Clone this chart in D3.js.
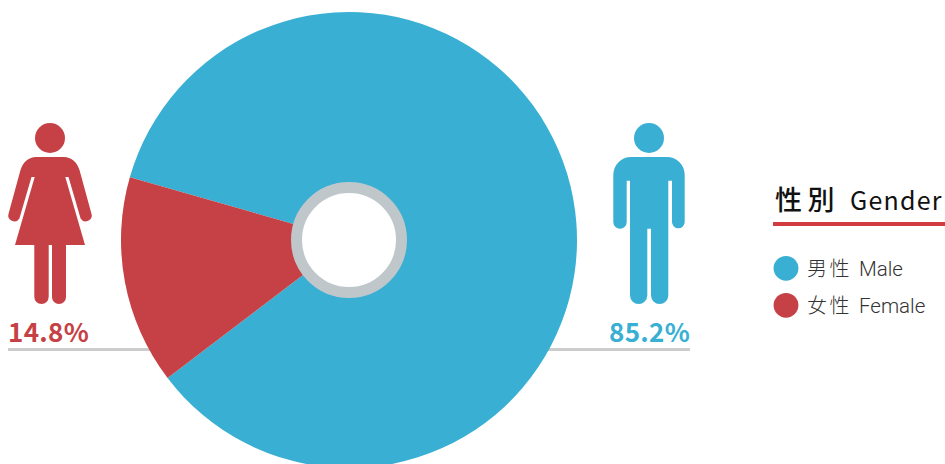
<!DOCTYPE html>
<html>
<head>
<meta charset="utf-8">
<script src="https://cdn.jsdelivr.net/npm/d3@7"></script>
<style>
  html, body { margin: 0; padding: 0; background: #fff; }
  svg { display: block; }
</style>
</head>
<body>
<svg id="chart" width="945" height="464"></svg>
<script>
const categories = ["男性", "女性"];
const categoriesEn = ["Male", "Female"];
const shares = [85.2, 14.8];
const colors = ["#38afd3", "#c64145"];
const legendTitle = ["性別", "Gender"];

const svg = d3.select("#chart");
const cx = 349, cy = 240, outerR = 228;
const cjk = "'Noto Sans CJK TC','Noto Sans CJK SC',sans-serif";

// Leader lines sit under the pie and run out to the figures
const leaders = [[530, 690], [8, 160]];
svg.selectAll("line.leader").data(leaders).join("line")
  .attr("class", "leader")
  .attr("x1", d => d[0]).attr("x2", d => d[1])
  .attr("y1", 349.5).attr("y2", 349.5)
  .attr("stroke", "#cccccc").attr("stroke-width", 3);

// Pie: the male slice begins at the upper left and sweeps clockwise
const startDeg = 286;
const pie = d3.pie().sort(null)
  .startAngle(startDeg * Math.PI / 180 - 2 * Math.PI)
  .endAngle(startDeg * Math.PI / 180);
const arc = d3.arc().innerRadius(0).outerRadius(outerR);
const g = svg.append("g").attr("transform", `translate(${cx},${cy})`);
g.selectAll("path").data(pie(shares)).join("path")
  .attr("d", arc)
  .attr("fill", (d, i) => colors[i]);

// Central hub
g.append("circle").attr("r", 52.5)
  .attr("fill", "#ffffff").attr("stroke", "#bfc7cb").attr("stroke-width", 11);

// Pictograms
const male = svg.append("g").attr("fill", colors[0]);
male.append("circle").attr("cx", 649).attr("cy", 138).attr("r", 15);
male.append("path").attr("d",
  "M631 157 H667 A17.7 17.7 0 0 1 684.7 174.7 V222 A6.35 6.35 0 0 1 672 222 V180.7 H668.3 V295.3 " +
  "A8.65 8.65 0 0 1 651 295.3 V228.7 H647.3 V295.3 A8.65 8.65 0 0 1 630 295.3 V180.7 H626.7 V222 " +
  "A6.7 6.7 0 0 1 613.3 222 V174.7 A17.7 17.7 0 0 1 631 157 Z");

const female = svg.append("g").attr("fill", colors[1]);
female.append("circle").attr("cx", 50).attr("cy", 138).attr("r", 15);
female.append("path").attr("d",
  "M36 157 H64 C71 157 77 162 79.5 170 L91.4 213.5 A6 6 0 0 1 80.6 218.5 L68.5 177 H65.3 L85 245 H15 " +
  "L34.7 177 H31.5 L19.4 218.5 A6 6 0 0 1 8.6 213.5 L20.5 170 C23 162 29 157 36 157 Z");
female.append("path").attr("d",
  "M34.3 240 H48.7 V296.8 A7.2 7.2 0 0 1 34.3 296.8 Z M52 240 H66 V297 A7 7 0 0 1 52 297 Z");

// Percentage labels
const pctLabels = [
  { i: 0, x: 609 },
  { i: 1, x: 8 }
];
svg.selectAll("text.pct").data(pctLabels).join("text")
  .attr("class", "pct")
  .attr("x", d => d.x).attr("y", 342)
  .attr("fill", d => colors[d.i])
  .attr("font-family", cjk)
  .attr("font-size", 26).attr("font-weight", 700)
  .attr("letter-spacing", 0.3)
  .text(d => shares[d.i].toFixed(1) + "%");

// Legend
const title = svg.append("text").attr("x", 775).attr("y", 209.5)
  .attr("fill", "#111111");
title.append("tspan").attr("font-family", cjk).attr("font-size", 27)
  .attr("font-weight", 500).attr("letter-spacing", 5.5).text(legendTitle[0]);
title.append("tspan").attr("dx", 10).attr("font-family", cjk).attr("font-size", 25)
  .attr("letter-spacing", 1.2).text(legendTitle[1]);

svg.append("rect").attr("x", 773).attr("y", 222).attr("width", 172).attr("height", 4)
  .attr("fill", "#d13c40");

const rowY = d3.scalePoint().domain(categories).range([268.3, 305.3]);
const rows = svg.selectAll("g.row").data(categories).join("g")
  .attr("class", "row")
  .attr("transform", d => `translate(0,${rowY(d)})`);
rows.append("circle").attr("cx", 786).attr("r", 12.4)
  .attr("fill", (d, i) => colors[i]);
const rowText = rows.append("text").attr("x", 807).attr("y", 8)
  .attr("fill", "#333333");
rowText.append("tspan").attr("font-family", cjk).attr("font-size", 20)
  .attr("font-weight", 300).attr("letter-spacing", 2.5).text(d => d);
rowText.append("tspan").attr("dx", 7)
  .attr("font-family", "Roboto,'Liberation Sans',sans-serif").attr("font-size", 20.5)
  .attr("font-weight", 300).text((d, i) => categoriesEn[i]);
</script>
</body>
</html>
